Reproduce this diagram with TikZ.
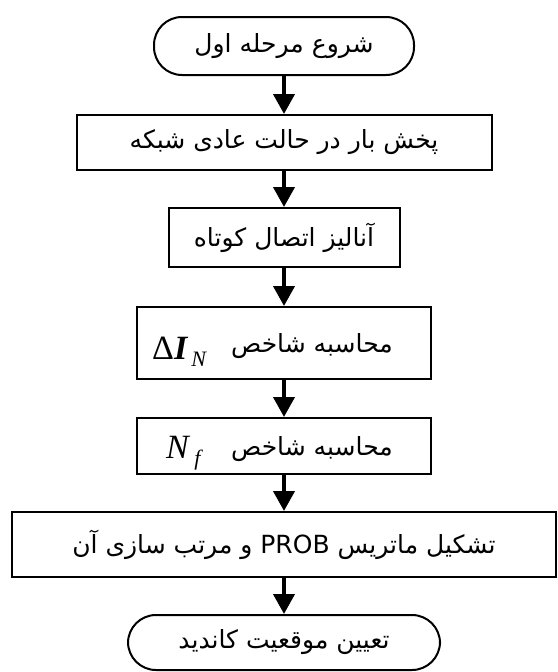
\documentclass[tikz,border=0pt]{standalone}
\usepackage{fontspec}
\setmainfont{DejaVu Sans}
\newfontfamily\arabicfont[Script=Arabic]{DejaVu Sans}
\newfontfamily\tms{Liberation Serif}
\usetikzlibrary{arrows.meta}
\TeXXeTstate=1
\begin{document}
\begin{tikzpicture}[x=1pt,y=-1pt,
  box/.style={draw,line width=2pt,inner sep=0pt,
    font=\arabicfont\fontsize{25}{30}\selectfont},
  term/.style={box,rounded corners=28pt},
  txt/.style={inner sep=0pt,font=\arabicfont\fontsize{25}{30}\selectfont},
  flow/.style={line width=4pt,-{Triangle[width=21pt,length=20pt]}}]
\useasboundingbox (0,0) rectangle (557,672);
\node[term,minimum width=260pt,minimum height=58pt] (start) at (284,46)
  {\beginR شروع مرحله اول\endR};
\node[box,minimum width=415pt,minimum height=55pt] (b2) at (284,142.5)
  {\beginR پخش بار در حالت عادی شبکه\endR};
\node[box,minimum width=231pt,minimum height=59pt] (b3) at (284,237.5)
  {\beginR آنالیز اتصال کوتاه\endR};
\node[box,minimum width=294pt,minimum height=72pt] (b4) at (284,343) {};
\node[txt,anchor=east] (t4) at (393,346) {\beginR محاسبه شاخص\endR};
\node[inner sep=0pt,anchor=base west] (m4) at (152,359)
  {\tms\fontsize{34}{34}\selectfont Δ\textbf{\textit{I}}\kern3pt\raisebox{-7pt}{\fontsize{22}{22}\selectfont\textit{N}}};
\node[box,minimum width=294pt,minimum height=56pt] (b5) at (284,446) {};
\node[txt,anchor=east] (t5) at (393,449) {\beginR محاسبه شاخص\endR};
\node[inner sep=0pt,anchor=base west] (m5) at (166,458)
  {\tms\fontsize{34}{34}\selectfont\textit{N}\kern4pt\raisebox{-7pt}{\fontsize{22}{22}\selectfont\textit{f}}};
\node[box,minimum width=544pt,minimum height=65pt] (b6) at (284,544.5)
  {\beginR تشکیل ماتریس \beginL PROB\endL{} و مرتب سازی آن\endR};
\node[term,minimum width=312pt,minimum height=55pt] (end) at (284,642.5)
  {\beginR تعیین موقعیت کاندید\endR};
\draw[flow] (start.south) -- (b2.north);
\draw[flow] (b2.south) -- (b3.north);
\draw[flow] (b3.south) -- (b4.north);
\draw[flow] (b4.south) -- (b5.north);
\draw[flow] (b5.south) -- (b6.north);
\draw[flow] (b6.south) -- (end.north);
\end{tikzpicture}
\end{document}
